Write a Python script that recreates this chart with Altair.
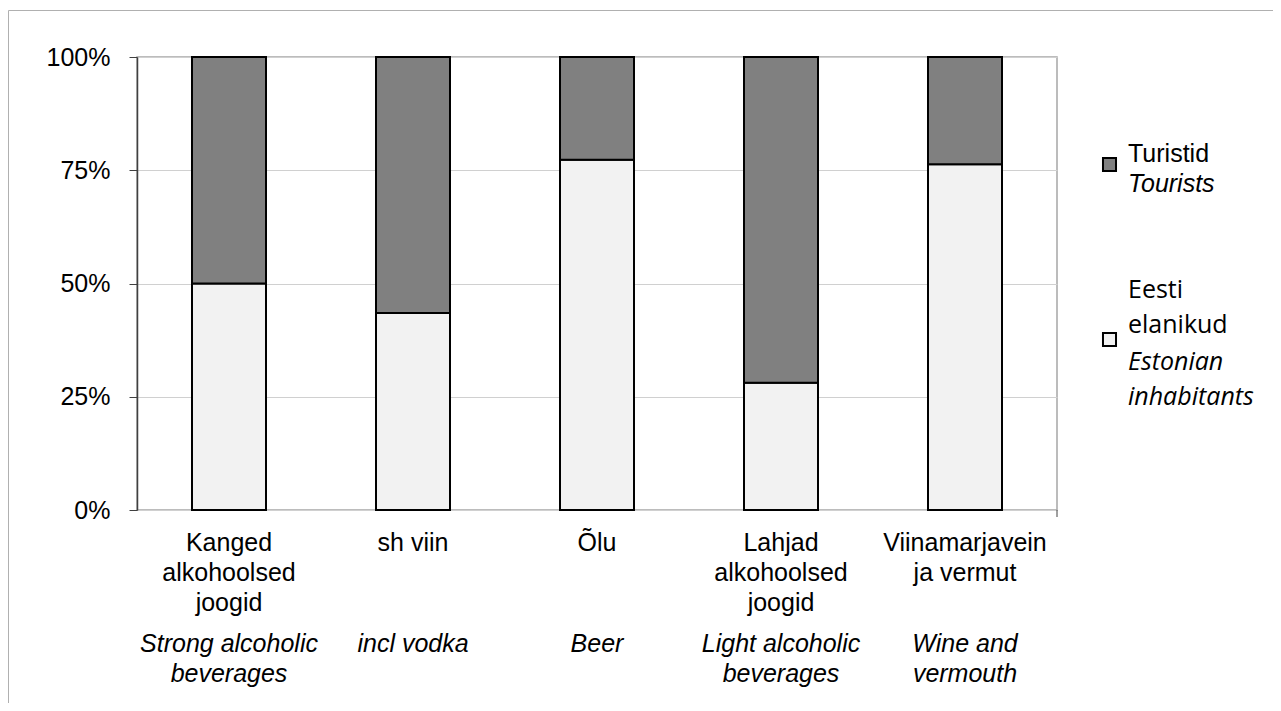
import altair as alt
import pandas as pd

categories = ["Kanged alkohoolsed joogid", "sh viin", "Õlu",
              "Lahjad alkohoolsed joogid", "Viinamarjavein ja vermut"]
label_et = ["Kanged\nalkohoolsed\njoogid", "sh viin", "Õlu",
            "Lahjad\nalkohoolsed\njoogid", "Viinamarjavein\nja vermut"]
label_en = ["Strong alcoholic\nbeverages", "incl vodka", "Beer",
            "Light alcoholic\nbeverages", "Wine and\nvermouth"]
eesti = [50.0, 43.5, 77.3, 28.1, 76.3]
turistid = [50.0, 56.5, 22.7, 71.9, 23.7]
series = ["Turistid", "Eesti elanikud"]
series_colors = ["#808080", "#f2f2f2"]
y_ticks = [0, 0.25, 0.5, 0.75, 1]

rows = []
for c, e, t in zip(categories, eesti, turistid):
    rows.append({"cat": c, "series": "Eesti elanikud", "value": e, "ord": 0})
    rows.append({"cat": c, "series": "Turistid", "value": t, "ord": 1})
df = pd.DataFrame(rows)
df_lab = pd.DataFrame({"cat": categories, "et": label_et, "en": label_en})

W, H = 920, 453
ARIAL = "Liberation Sans"
HUMAN = "Open Sans"

xscale = alt.Scale(domain=categories, paddingInner=0, paddingOuter=0)

bars = alt.Chart(df).mark_bar(size=74, stroke="black", strokeWidth=2).encode(
    x=alt.X("cat:N", sort=categories, scale=xscale,
            axis=alt.Axis(labels=False, title=None, bandPosition=0, tickSize=7,
                          tickColor="#404040", domainColor="#404040", grid=False,
                          domainWidth=1.5)),
    y=alt.Y("value:Q", stack="normalize", scale=alt.Scale(domain=[0, 1]),
            axis=alt.Axis(values=y_ticks, format="%", title=None, tickSize=8,
                          labelFontSize=25, labelFont=ARIAL, labelColor="black",
                          labelPadding=19, gridColor="#d0d0d0", domainColor="#404040",
                          domainWidth=1.5, tickColor="#404040")),
    color=alt.Color("series:N", scale=alt.Scale(domain=series, range=series_colors),
                    legend=None),
    order=alt.Order("ord:Q"),
)

lab_et = alt.Chart(df_lab).mark_text(
    font=ARIAL, fontSize=25, lineBreak="\n", lineHeight=30,
    baseline="alphabetic", align="center", color="black"
).encode(x=alt.X("cat:N", sort=categories, scale=xscale, axis=None),
         y=alt.value(494), text="et:N")

lab_en = alt.Chart(df_lab).mark_text(
    font=ARIAL, fontSize=25, fontStyle="italic", lineBreak="\n", lineHeight=30,
    baseline="alphabetic", align="center", color="black"
).encode(x=alt.X("cat:N", sort=categories, scale=xscale, axis=None),
         y=alt.value(595), text="en:N")

one = alt.Data(values=[{"a": 1}])

end_tick = alt.Chart(one).mark_rule(color="#404040", strokeWidth=1).encode(
    x=alt.value(W), y=alt.value(H), y2=alt.value(H + 7))

frame_top = alt.Chart(one).mark_rule(color="#b0b0b0", strokeWidth=1).encode(
    x=alt.value(-128.5), x2=alt.value(1136), y=alt.value(-46.5))
frame_left = alt.Chart(one).mark_rule(color="#b0b0b0", strokeWidth=1).encode(
    x=alt.value(-128.5), y=alt.value(-46.5), y2=alt.value(646))

leg_df = pd.DataFrame({"series": series, "ypos": [107.5, 282.5]})
leg_sq = alt.Chart(leg_df).mark_point(
    shape="square", filled=True, size=170, stroke="black", strokeWidth=2, opacity=1
).encode(x=alt.value(972.5), y=alt.Y("ypos:Q", scale=None),
         fill=alt.Fill("series:N", scale=alt.Scale(domain=series, range=series_colors),
                       legend=None))

leg_t1 = alt.Chart(one).mark_text(font=ARIAL, fontSize=25, align="left",
                                  baseline="alphabetic", color="black").encode(
    x=alt.value(991), y=alt.value(105), text=alt.value("Turistid"))
leg_t2 = alt.Chart(one).mark_text(font=ARIAL, fontSize=25, fontStyle="italic", align="left",
                                  baseline="alphabetic", color="black").encode(
    x=alt.value(991), y=alt.value(135), text=alt.value("Tourists"))
leg_t3 = alt.Chart(one).mark_text(font=HUMAN, fontSize=25, align="left", lineBreak="\n",
                                  lineHeight=35, baseline="alphabetic", color="black").encode(
    x=alt.value(991), y=alt.value(241), text=alt.value("Eesti\nelanikud"))
leg_t4 = alt.Chart(one).mark_text(font=HUMAN, fontSize=25, fontStyle="italic", align="left",
                                  lineBreak="\n", lineHeight=35, baseline="alphabetic",
                                  color="black").encode(
    x=alt.value(991), y=alt.value(313), text=alt.value("Estonian\ninhabitants"))

chart = alt.layer(
    bars, lab_et, lab_en, end_tick, frame_top, frame_left,
    leg_sq, leg_t1, leg_t2, leg_t3, leg_t4
).properties(
    width=W, height=H,
    autosize=alt.AutoSizeParams(type="none"),
    padding={"left": 129, "top": 49, "right": 216, "bottom": 193},
).resolve_scale(
    color="independent", fill="independent"
).configure_view(stroke="#a6a6a6", strokeWidth=1.5)

chart.save("out.html", embed_options={"renderer": "svg", "actions": False})
